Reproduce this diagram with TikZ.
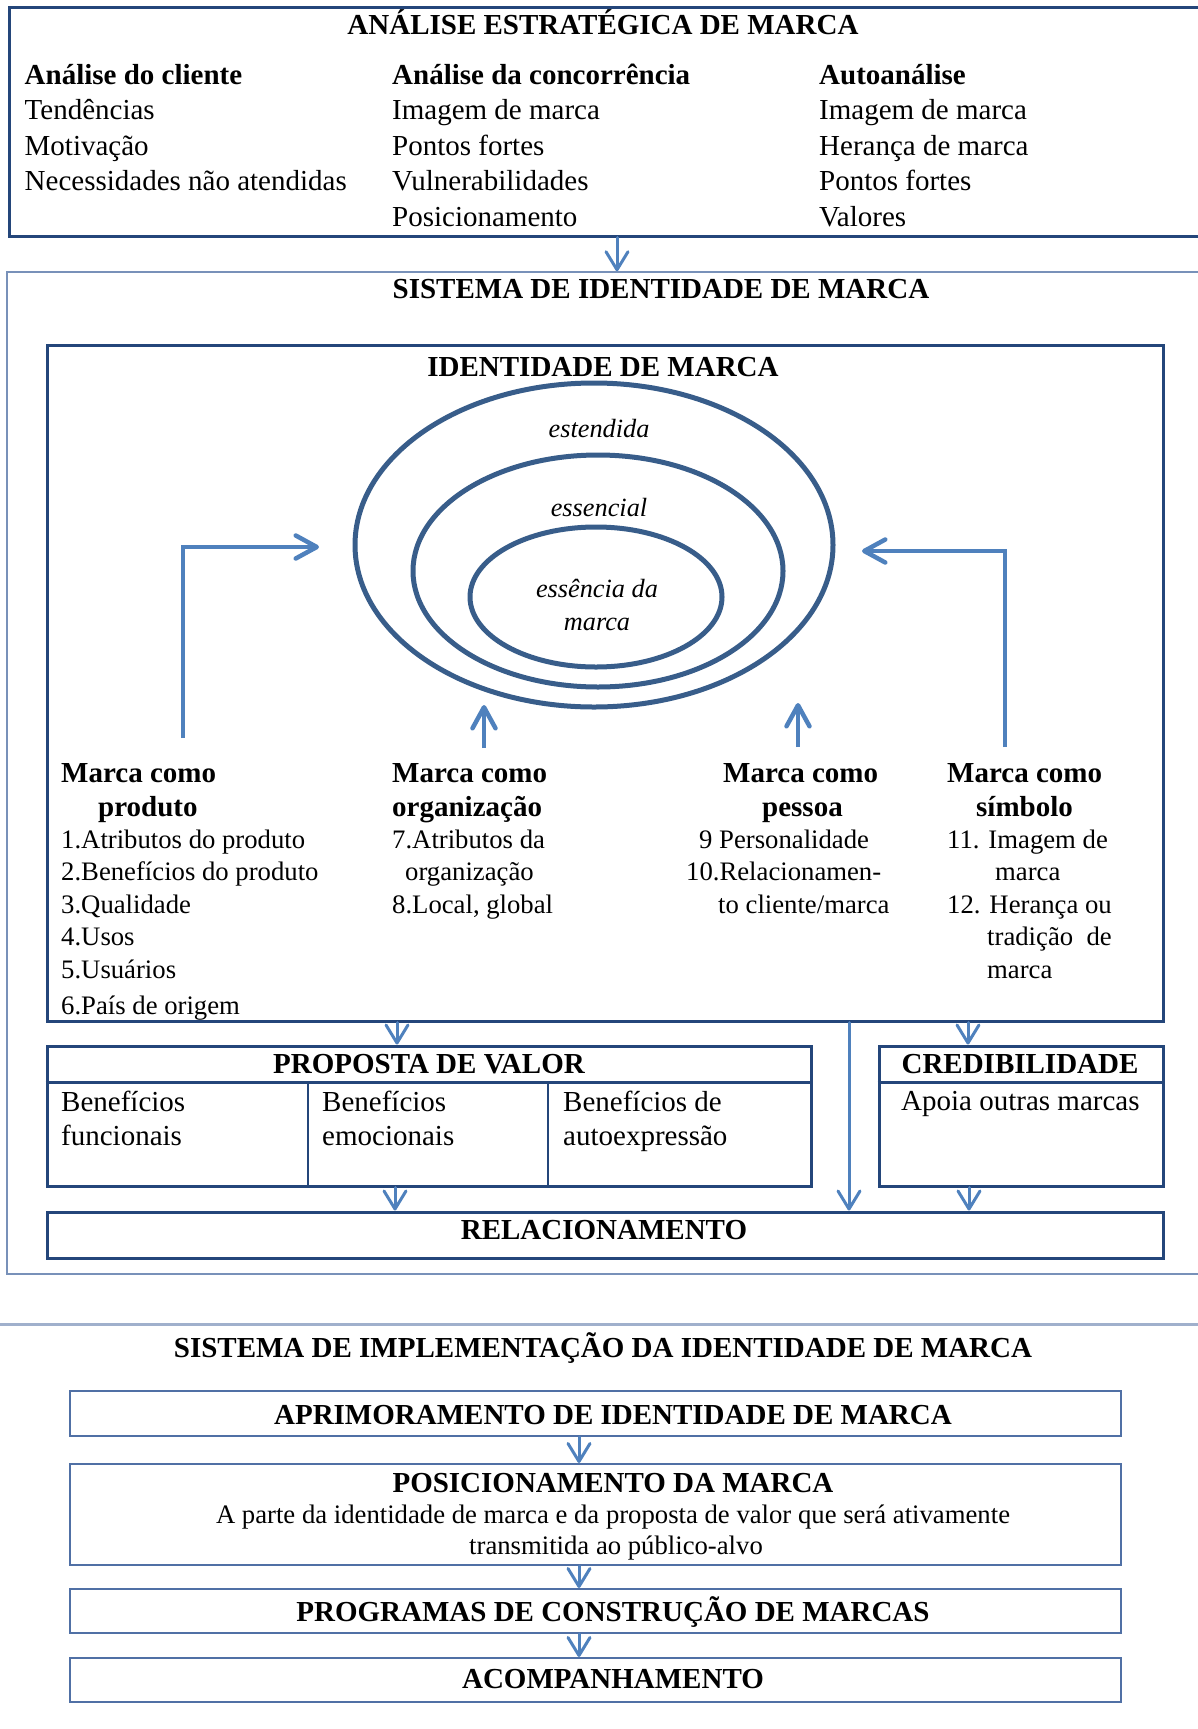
\documentclass[tikz,border=0pt]{standalone}
\usepackage{fontspec}
\setmainfont{Liberation Serif}
\usetikzlibrary{arrows.meta,shapes.geometric}
\definecolor{boxblue}{RGB}{36,70,122}
\definecolor{ringblue}{RGB}{56,93,138}
\definecolor{arrowblue}{RGB}{79,129,189}
\definecolor{framegray}{RGB}{120,145,185}
\definecolor{rulegray}{RGB}{160,176,204}
\definecolor{lowblue}{RGB}{80,112,165}
\tikzset{
  darkbox/.style={draw=boxblue, line width=3pt, inner sep=0pt},
  frame/.style={draw=framegray, line width=1.5pt, inner sep=0pt},
  lowbox/.style={draw=lowblue, line width=2pt, inner sep=0pt},
  ring/.style={draw=ringblue, line width=5pt, ellipse, inner sep=0pt},
  ttl/.style={font=\fontsize{29}{34}\selectfont\bfseries, inner sep=0pt},
  txt/.style={font=\fontsize{29}{34}\selectfont, inner sep=0pt},
  sml/.style={font=\fontsize{26.7}{32}\selectfont, inner sep=0pt},
  itl/.style={font=\fontsize{26.3}{32}\selectfont\itshape, inner sep=0pt},
  arr/.style={draw=arrowblue, line width=3pt, line cap=round,
    -{Straight Barb[length=18pt,width=22pt,line width=3pt,round]}},
  bigarr/.style={draw=arrowblue, line width=4.5pt,
    -{Straight Barb[length=21pt,width=23pt,line width=4.5pt,round]}},
}
\begin{document}
\begin{tikzpicture}[x=1pt,y=-1pt]
\useasboundingbox (0,0) rectangle (1198,1729);

% ---------- strategic analysis ----------
\node[darkbox, minimum width=1201pt, minimum height=229pt] (analise) at (609.5,121.5) {};
\node[ttl, anchor=base] (tAnalise) at (603,34.5) {ANÁLISE ESTRATÉGICA DE MARCA};
\node[ttl, anchor=base west] (hCli) at (24.5,84.5) {Análise do cliente};
\node[txt, anchor=base west] (c1) at (24.5,119.5) {Tendências};
\node[txt, anchor=base west] (c2) at (24.5,155.5) {Motivação};
\node[txt, anchor=base west] (c3) at (24.5,190.5) {Necessidades não atendidas};
\node[ttl, anchor=base west] (hCon) at (392,84.5) {Análise da concorrência};
\node[txt, anchor=base west] (k1) at (392,119.5) {Imagem de marca};
\node[txt, anchor=base west] (k2) at (392,155.5) {Pontos fortes};
\node[txt, anchor=base west] (k3) at (392,190.5) {Vulnerabilidades};
\node[txt, anchor=base west] (k4) at (392,226.5) {Posicionamento};
\node[ttl, anchor=base west] (hAuto) at (819,84.5) {Autoanálise};
\node[txt, anchor=base west] (s1) at (819,119.5) {Imagem de marca};
\node[txt, anchor=base west] (s2) at (819,155.5) {Herança de marca};
\node[txt, anchor=base west] (s3) at (819,190.5) {Pontos fortes};
\node[txt, anchor=base west] (s4) at (819,226.5) {Valores};

% ---------- identity system ----------
\node[frame, minimum width=1198pt, minimum height=1002pt] (sistema) at (606,773) {};
\node[ttl, anchor=base] (tSistema) at (661,298.5) {SISTEMA DE IDENTIDADE DE MARCA};
\coordinate (xa) at (617,0);
\draw[arr] (xa |- analise.south) -- (xa |- sistema.north);

\node[darkbox, minimum width=1116pt, minimum height=676pt] (ident) at (605,683) {};
\node[ttl, anchor=base] (tIdent) at (603,376.5) {IDENTIDADE DE MARCA};

\node[ring, minimum width=478pt, minimum height=324pt] (outer) at (594,545) {};
\node[ring, minimum width=370pt, minimum height=232pt] (middle) at (598,571) {};
\node[ring, minimum width=252pt, minimum height=140pt] (inner) at (596,597) {};
\node[itl, anchor=base] (lExt) at (599,437) {estendida};
\node[itl, anchor=base] (lEss) at (599,516) {essencial};
\node[itl, anchor=base] (lCore1) at (597,597) {essência da};
\node[itl, anchor=base] (lCore2) at (597,630) {marca};

% feedback arrows towards the rings
\coordinate (pStart) at (183,738);
\coordinate (pTip) at (319,547);
\draw[bigarr] (pStart) |- (pTip);
\coordinate (sStart) at (1005,747);
\coordinate (sTip) at (862,551);
\draw[bigarr] (sStart) |- (sTip);
\coordinate (oStart) at (484,748);
\coordinate (oTip) at (484,705);
\draw[bigarr, line width=3.5pt] (oStart) -- (oTip);
\coordinate (eStart) at (798,747);
\coordinate (eTip) at (798,703);
\draw[bigarr, line width=3.5pt] (eStart) -- (eTip);

% brand as product
\node[ttl, anchor=base west] (hProd) at (61,782) {Marca como};
\node[ttl, anchor=base west] (hProd2) at (98,816) {produto};
\node[sml, anchor=base west] (p1) at (61,848.5) {1.Atributos do produto};
\node[sml, anchor=base west] (p2) at (61,880.5) {2.Benefícios do produto};
\node[sml, anchor=base west] (p3) at (61,913.5) {3.Qualidade};
\node[sml, anchor=base west] (p4) at (61,945.5) {4.Usos};
\node[sml, anchor=base west] (p5) at (61,978.5) {5.Usuários};
\node[sml, anchor=base west] (p6) at (61,1014) {6.País de origem};

% brand as organization
\node[ttl, anchor=base west] (hOrg) at (392,782) {Marca como};
\node[ttl, anchor=base west] (hOrg2) at (392,816) {organização};
\node[sml, anchor=base west] (o1) at (392,848.5) {7.Atributos da};
\node[sml, anchor=base west] (o2) at (405,880.5) {organização};
\node[sml, anchor=base west] (o3) at (392,913.5) {8.Local, global};

% brand as person
\node[ttl, anchor=base west] (hPes) at (723,782) {Marca como};
\node[ttl, anchor=base west] (hPes2) at (762,816) {pessoa};
\node[sml, anchor=base west] (e1) at (699,848.5) {9 Personalidade};
\node[sml, anchor=base west] (e2) at (686,880.5) {10.Relacionamen-};
\node[sml, anchor=base west] (e3) at (718,913.5) {to cliente/marca};

% brand as symbol
\node[ttl, anchor=base west] (hSim) at (947,782) {Marca como};
\node[ttl, anchor=base west] (hSim2) at (976,816) {símbolo};
\node[sml, anchor=base west] (y1) at (947,848.5) {11. Imagem de};
\node[sml, anchor=base west] (y2) at (995,880.5) {marca};
\node[sml, anchor=base west] (y3) at (947,913.5) {12. Herança ou};
\node[sml, anchor=base west] (y4) at (987,945.5) {tradição~~de};
\node[sml, anchor=base west] (y5) at (987,978.5) {marca};

% value proposition
\node[darkbox, minimum width=764pt, minimum height=140pt] (valor) at (429,1116) {};
\coordinate (hdr) at (0,1082);
\coordinate (col1) at (308,1082);
\coordinate (col2) at (548,1082);
\draw[boxblue, line width=3pt] (valor.west |- hdr) -- (valor.east |- hdr);
\draw[boxblue, line width=2pt] (col1) -- (col1 |- valor.south);
\draw[boxblue, line width=2pt] (col2) -- (col2 |- valor.south);
\node[ttl, anchor=base] (tValor) at (429,1073.5) {PROPOSTA DE VALOR};
\node[txt, anchor=base west] (v1) at (61,1111) {Benefícios};
\node[txt, anchor=base west] (v1b) at (61,1145) {funcionais};
\node[txt, anchor=base west] (v2) at (322,1111) {Benefícios};
\node[txt, anchor=base west] (v2b) at (322,1145) {emocionais};
\node[txt, anchor=base west] (v3) at (563,1111) {Benefícios de};
\node[txt, anchor=base west] (v3b) at (563,1145) {autoexpressão};

% credibility
\node[darkbox, minimum width=284pt, minimum height=140pt] (cred) at (1021,1116) {};
\draw[boxblue, line width=3pt] (cred.west |- hdr) -- (cred.east |- hdr);
\node[ttl, anchor=base] (tCred) at (1020,1073.5) {CREDIBILIDADE};
\node[txt, anchor=base west] (cr1) at (901,1110) {Apoia outras marcas};

% relationship
\node[darkbox, minimum width=1116pt, minimum height=46pt] (relac) at (605,1235) {};
\node[ttl, anchor=base] (tRelac) at (604,1239.5) {RELACIONAMENTO};

\coordinate (xb) at (397,0);
\coordinate (xc) at (849,0);
\coordinate (xd) at (968,0);
\coordinate (xe) at (395,0);
\coordinate (xf) at (969,0);
\draw[arr] (xb |- ident.south) -- (xb |- valor.north);
\draw[arr] (xc |- ident.south) -- (xc |- relac.north);
\draw[arr] (xd |- ident.south) -- (xd |- cred.north);
\draw[arr] (xe |- valor.south) -- (xe |- relac.north);
\draw[arr] (xf |- cred.south) -- (xf |- relac.north);

% ---------- implementation system ----------
\coordinate (ruleL) at (0,1324);
\coordinate (ruleR) at (1198,1324);
\draw[rulegray, line width=3pt] (ruleL) -- (ruleR);
\node[ttl, anchor=base] (tImpl) at (603,1357.5) {SISTEMA DE IMPLEMENTAÇÃO DA IDENTIDADE DE MARCA};

\node[lowbox, minimum width=1051pt, minimum height=45pt] (aprim) at (595.5,1413.5) {};
\node[ttl, anchor=base] (tAprim) at (613,1424.5) {APRIMORAMENTO DE IDENTIDADE DE MARCA};
\node[lowbox, minimum width=1051pt, minimum height=101pt] (posic) at (595.5,1514.5) {};
\node[ttl, anchor=base] (tPosic) at (613,1492) {POSICIONAMENTO DA MARCA};
\node[sml, anchor=base] (tPosic1) at (613,1523.6) {A parte da identidade de marca e da proposta de valor que será ativamente};
\node[sml, anchor=base] (tPosic2) at (616,1554.4) {transmitida ao público-alvo};
\node[lowbox, minimum width=1051pt, minimum height=44pt] (prog) at (595.5,1611) {};
\node[ttl, anchor=base] (tProg) at (613,1621) {PROGRAMAS DE CONSTRUÇÃO DE MARCAS};
\node[lowbox, minimum width=1051pt, minimum height=44pt] (acomp) at (595.5,1680) {};
\node[ttl, anchor=base] (tAcomp) at (613,1688.5) {ACOMPANHAMENTO};

\coordinate (xg) at (579,0);
\draw[arr] (xg |- aprim.south) -- (xg |- posic.north);
\draw[arr] (xg |- posic.south) -- (xg |- prog.north);
\draw[arr] (xg |- prog.south) -- (xg |- acomp.north);
\end{tikzpicture}
\end{document}
